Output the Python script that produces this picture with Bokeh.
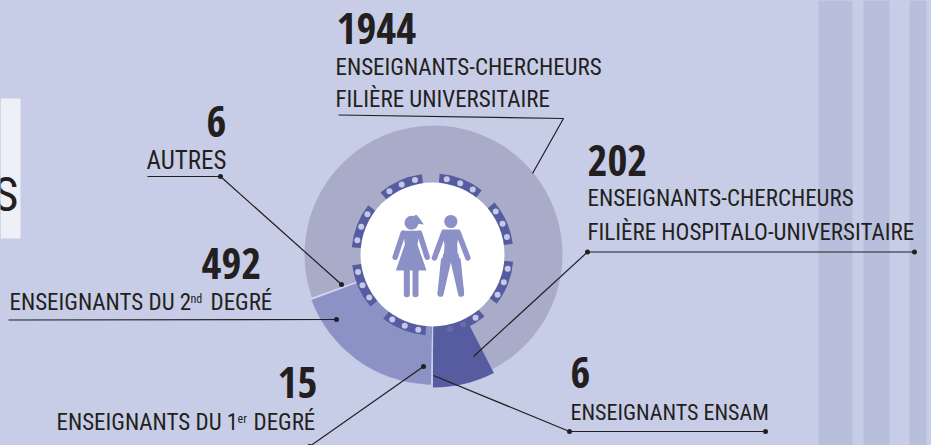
import math
from bokeh.plotting import figure
from bokeh.embed import file_html
from bokeh.resources import INLINE
from bokeh.core.properties import value

# --- data
categories = ["Enseignants-chercheurs filière universitaire",
              "Enseignants-chercheurs filière hospitalo-universitaire",
              "Enseignants ENSAM", "Enseignants du 1er degré",
              "Enseignants du 2nd degré", "Autres"]
counts = [1944, 202, 6, 15, 492, 6]
wedge_colors = ["#a9acc9", "#575ca1", "#bdd3ea", "#8c91c6", "#8c91c6", "#d3d8ef"]
wedge_radii = [129, 133, 133, 130, 130, 130]

BG = "#c7cde6"; STRIPE = "#b8bfdd"; INK = "#231f20"
W, H = 931, 445
CX, CY = 433, 254
LABEL = "Roboto Condensed"
NUM = "Open Sans Condensed"
def Y(py): return H - py

p = figure(width=W, height=H, x_range=(0, W), y_range=(0, H), output_backend="svg",
           toolbar_location=None, min_border=0, outline_line_color=None,
           background_fill_color=BG, border_fill_color=BG)
p.xaxis.visible = False; p.yaxis.visible = False; p.grid.visible = False
p.styles = {"position": "fixed", "left": "0", "top": "0", "background-color": BG}

def put(txt, x, base, size, font):
    # the svg text sits about 0.38 em under the requested baseline
    p.text(x=[x], y=[Y(base - 0.38 * size)], text=[txt], text_font=value(font),
           text_font_size=f"{size}px", text_color=INK, text_baseline="alphabetic")

# stripes and left box
for x0, x1 in [(818, 852), (863, 889), (909, 926)]:
    p.quad(left=x0, right=x1, bottom=0, top=H, fill_color=STRIPE, line_color=None)
p.quad(left=0, right=20, bottom=Y(238), top=Y(98), fill_color="#eef0f8", line_color=None)
put("S", -7, 212, 48, LABEL)

# donut slices: clockwise on screen, beginning at the dark slice
total = sum(counts)
a = math.radians(-63.0)
order = [1, 2, 3, 4, 5, 0]
spans = {}
for i in order:
    span = counts[i] / total * 2 * math.pi
    spans[i] = (a - span, a)
    a -= span
for i in [0, 4, 3, 1, 5, 2]:
    s, e = spans[i]
    p.wedge(x=[CX], y=[Y(CY)], radius=wedge_radii[i], start_angle=s, end_angle=e,
            fill_color=wedge_colors[i], line_color=wedge_colors[i] if i in (3, 4) else None,
            line_width=0.5)
# tapered tail of the ENSAM sliver
s, e = spans[2]
r0 = wedge_radii[2]
p.patch(x=[CX + r0 * math.cos(s), CX + r0 * math.cos(e), CX - 1.5],
        y=[Y(CY) + r0 * math.sin(s), Y(CY) + r0 * math.sin(e), Y(CY + 142)],
        fill_color=wedge_colors[2], line_color=None)

# ring of small seat segments
for k in range(8):
    mid = 21.25 + 45 * k
    a1 = math.radians(90 - mid - 16.2); a2 = math.radians(90 - mid + 16.2)
    p.annular_wedge(x=[CX - 1], y=[Y(CY)], inner_radius=70, outer_radius=81, start_angle=a1, end_angle=a2,
                    fill_color="#575ca1", line_color=None)
    for d in (-10.5, 0, 10.5):
        t = math.radians(90 - mid + d)
        faded = (k == 3 and d < 5)   # hidden by the dark slice in the original
        p.circle(x=[CX - 1 + 76.5 * math.cos(t)], y=[Y(CY) + 76.5 * math.sin(t)], radius=3,
                 fill_color="#c4c9e6", fill_alpha=0.15 if faded else 1, line_color=None)
p.circle(x=[CX - 1], y=[Y(CY)], radius=72, fill_color="#ffffff", line_color=None)

# people pictogram
ICON = "#8b90c7"
def zx(v): return 290 + v / 3
def zy(v): return H - (160 + v / 3)
def poly(pts): p.patch(x=[zx(a) for a, b in pts], y=[zy(b) for a, b in pts], fill_color=ICON, line_color=None)
def seg(pts, w): p.line(x=[zx(a) for a, b in pts], y=[zy(b) for a, b in pts], line_color=ICON, line_width=w, line_cap="round", line_join="round")
p.circle(x=[zx(363)], y=[zy(187)], radius=7, fill_color=ICON, line_color=None)
poly([(360, 170), (378, 163), (388, 175), (400, 192), (380, 190)])
poly([(338, 211), (387, 211), (381, 252), (408, 330), (316, 330), (343, 252)])
seg([(338, 218), (314, 290)], 5.5); seg([(387, 218), (410, 290)], 5.5)
seg([(349, 325), (349, 401)], 6); seg([(375, 325), (375, 401)], 6)
p.circle(x=[zx(481)], y=[zy(183)], radius=6.6, fill_color=ICON, line_color=None)
poly([(455, 207), (507, 207), (500, 252), (502, 290), (460, 290), (462, 252)])
seg([(460, 216), (432, 292)], 5.5); seg([(503, 216), (532, 292)], 5.5)
poly([(458, 280), (504, 280), (521, 400), (503, 402), (481, 306), (459, 402), (441, 400)])
seg([(450, 400), (460, 300)], 6); seg([(512, 400), (502, 300)], 6)

# leaders
leaders = [[(338, 114.5), (563, 118), (532, 173)],
           [(914, 251.5), (587, 251.5), (473, 356)],
           [(147, 176), (220, 176), (341, 284)],
           [(8, 319.5), (336, 319)],
           [(423, 366), (309, 446)],
           [(433, 375), (569, 431), (765, 431)]]
for pts in leaders:
    p.line(x=[a for a, b in pts], y=[Y(b) for a, b in pts], line_color=INK, line_width=1.2)
dots = [(914, 251.5), (587, 251.5), (220, 176), (341, 284), (336, 319), (423, 366), (569, 431), (765, 431), (309, 446)]
p.circle(x=[a for a, b in dots], y=[Y(b) for a, b in dots], radius=2.5, fill_color=INK, line_color=None)

# numbers
numbers = [("1944", 336, 44), ("202", 587, 176), ("6", 206, 137), ("492", 201, 279), ("15", 277, 398), ("6", 570, 388)]
for txt, x, y in numbers:
    put(txt, x, y, 43, NUM)

# labels
labels = [("ENSEIGNANTS-CHERCHEURS", 335, 76, 23), ("FILIÈRE UNIVERSITAIRE", 335, 108, 23),
          ("AUTRES", 146, 169, 25), ("ENSEIGNANTS-CHERCHEURS", 587, 207, 23),
          ("FILIÈRE HOSPITALO-UNIVERSITAIRE", 587, 241, 23), ("ENSEIGNANTS DU 2", 9, 311, 23),
          ("DEGRÉ", 210, 311, 23), ("ENSEIGNANTS DU 1", 56, 431, 23), ("DEGRÉ", 253, 431, 23),
          ("ENSEIGNANTS ENSAM", 570, 420, 22)]
for txt, x, y, size in labels:
    put(txt, x, y, size, LABEL)
for txt, x, y in [("nd", 190, 303), ("er", 237, 423)]:
    put(txt, x, y, 12, LABEL)

open("out.html", "w").write(file_html(p, INLINE))
